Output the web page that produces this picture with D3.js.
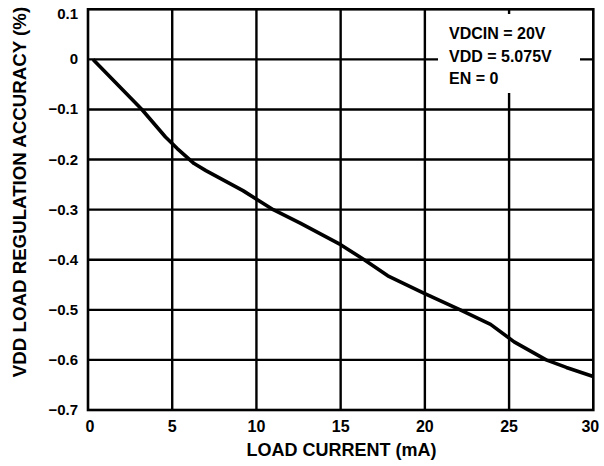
<!DOCTYPE html>
<html>
<head>
<meta charset="utf-8">
<script src="https://cdn.jsdelivr.net/npm/d3@7"></script>
<style>
  html, body { margin: 0; padding: 0; background: #fff; }
  svg { display: block; }
</style>
</head>
<body>
<svg id="chart" width="604" height="466"></svg>
<script>
// Load current (mA) and VDD load regulation accuracy (%)
const loadCurrent = [0.3, 3.2, 4.6, 5.3, 6.3, 7.0, 9.2, 11.0, 12.6, 15.0, 16.4, 17.8, 19.9, 22.1, 23.9, 25.3, 27.2, 28.4, 30.0];
const accuracy    = [0, -0.1, -0.155, -0.178, -0.208, -0.222, -0.262, -0.3, -0.327, -0.37, -0.4, -0.432, -0.466, -0.5, -0.529, -0.564, -0.6, -0.615, -0.633];

const xTicks = [0, 5, 10, 15, 20, 25, 30];
const yTicks = [0.1, 0, -0.1, -0.2, -0.3, -0.4, -0.5, -0.6, -0.7];
const conditions = ["VDCIN = 20V", "VDD = 5.075V", "EN = 0"];

const svg = d3.select("#chart");
const plot = { left: 88, right: 593.3, top: 9.3, bottom: 410 };

const x = d3.scaleLinear().domain([0, 30]).range([plot.left, plot.right]);
const y = d3.scaleLinear().domain([-0.7, 0.1]).range([plot.bottom, plot.top]);

const sans = "'Liberation Sans', Arial, sans-serif";

// grid
const grid = svg.append("g").attr("stroke", "#000").attr("stroke-width", 2.4);
grid.selectAll("line.v").data(xTicks.slice(1, -1)).join("line")
  .attr("class", "v")
  .attr("x1", d => x(d)).attr("x2", d => x(d))
  .attr("y1", plot.top).attr("y2", plot.bottom);
grid.selectAll("line.h").data(yTicks.slice(1, -1)).join("line")
  .attr("class", "h")
  .attr("x1", plot.left).attr("x2", plot.right)
  .attr("y1", d => y(d)).attr("y2", d => y(d));

// condition box blanks out the grid behind it
svg.append("rect")
  .attr("x", 438).attr("y", 14).attr("width", 142).attr("height", 79)
  .attr("fill", "#fff");

// plot frame
svg.append("rect")
  .attr("x", plot.left).attr("y", plot.top)
  .attr("width", plot.right - plot.left).attr("height", plot.bottom - plot.top)
  .attr("fill", "none").attr("stroke", "#000").attr("stroke-width", 2.6);

// curve
const pts = loadCurrent.map((v, i) => [v, accuracy[i]]);
svg.append("path")
  .datum(pts)
  .attr("fill", "none")
  .attr("stroke", "#000")
  .attr("stroke-width", 3.6)
  .attr("stroke-linejoin", "round")
  .attr("d", d3.line().x(d => x(d[0])).y(d => y(d[1])));

// y tick labels
svg.append("g").selectAll("text").data(yTicks).join("text")
  .attr("x", 78)
  .attr("y", (d, i) => i === 0 ? y(d) + 10 : y(d) + 5)
  .attr("text-anchor", "end")
  .attr("font-family", sans).attr("font-weight", "bold").attr("font-size", 15)
  .text(d => d3.format(".1~f")(d));

// x tick labels
svg.append("g").selectAll("text").data(xTicks).join("text")
  .attr("x", (d, i) => i === xTicks.length - 1 ? x(d) - 3 : x(d) + (i === 0 ? 2 : 0))
  .attr("y", 432)
  .attr("text-anchor", "middle")
  .attr("font-family", sans).attr("font-weight", "bold").attr("font-size", 16)
  .text(d => d);

// axis titles
svg.append("text")
  .attr("x", 341.5).attr("y", 455.5)
  .attr("text-anchor", "middle")
  .attr("font-family", sans).attr("font-weight", "bold").attr("font-size", 18)
  .text("LOAD CURRENT (mA)");

svg.append("text")
  .attr("transform", "translate(25.5,192) rotate(-90)")
  .attr("text-anchor", "middle")
  .attr("font-family", sans).attr("font-weight", "bold").attr("font-size", 18.7)
  .text("VDD LOAD REGULATION ACCURACY (%)");

// operating conditions
svg.append("g").selectAll("text").data(conditions).join("text")
  .attr("x", 449)
  .attr("y", (d, i) => 39 + i * 22.5)
  .attr("font-family", sans).attr("font-weight", "bold").attr("font-size", 16)
  .text(d => d);
</script>
</body>
</html>
